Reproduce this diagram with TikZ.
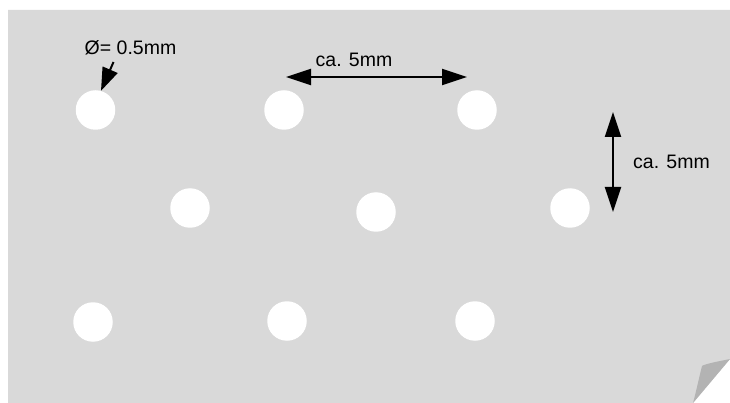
\documentclass[tikz,border=0pt]{standalone}
\usepackage{fontspec}
\setmainfont{Liberation Sans}
\usetikzlibrary{arrows.meta}
\definecolor{paper}{HTML}{D9D9D9}
\definecolor{flap}{HTML}{B3B3B3}
\begin{document}
\begin{tikzpicture}[x=1pt,y=-1pt,
  hole/.style={circle,fill=white,draw=none,minimum size=39.5pt,inner sep=0pt},
  lbl/.style={font=\fontsize{19.5}{22}\selectfont,inner sep=0pt},
  dim/.style={line width=2pt,{Triangle[length=25pt,width=16pt]}-{Triangle[length=25pt,width=16pt]}},
  pointer/.style={line width=2pt,-{Triangle[length=23pt,width=16pt]}}]
\useasboundingbox (0,0) rectangle (730,403);
\fill[white] (0,0) rectangle (730,403);
% paper
\fill[paper] (8,10) -- (730,10) -- (730,359) -- (693,403) -- (8,403) -- cycle;
\fill[flap] (730,359) .. controls (715,362) and (705,364) .. (702,366) .. controls (699,378) and (696,392) .. (693,403) -- cycle;
% holes
\node[hole] (h11) at (95.5,110) {};
\node[hole] (h12) at (284,110) {};
\node[hole] (h13) at (477,110) {};
\node[hole] (h21) at (190,208) {};
\node[hole] (h22) at (376,212) {};
\node[hole] (h23) at (570,208) {};
\node[hole] (h31) at (93,322) {};
\node[hole] (h32) at (287,321) {};
\node[hole] (h33) at (475,321) {};
% labels
\node[lbl] (dia) at (130.5,48) {Ø= 0.5mm};
\node[lbl] (hd) at (354,60) {ca. 5mm};
\node[lbl] (vd) at (671.5,162) {ca. 5mm};
% dimension arrows
\coordinate (hl) at (286,77);
\coordinate (hr) at (467,77);
\coordinate (vt) at (613,112);
\coordinate (vb) at (613,212);
\draw[dim] (hl) -- (hr);
\draw[dim] (vt) -- (vb);
\coordinate (pt) at (113.5,62);
\draw[pointer] (pt) -- (h11.74);
\end{tikzpicture}
\end{document}
